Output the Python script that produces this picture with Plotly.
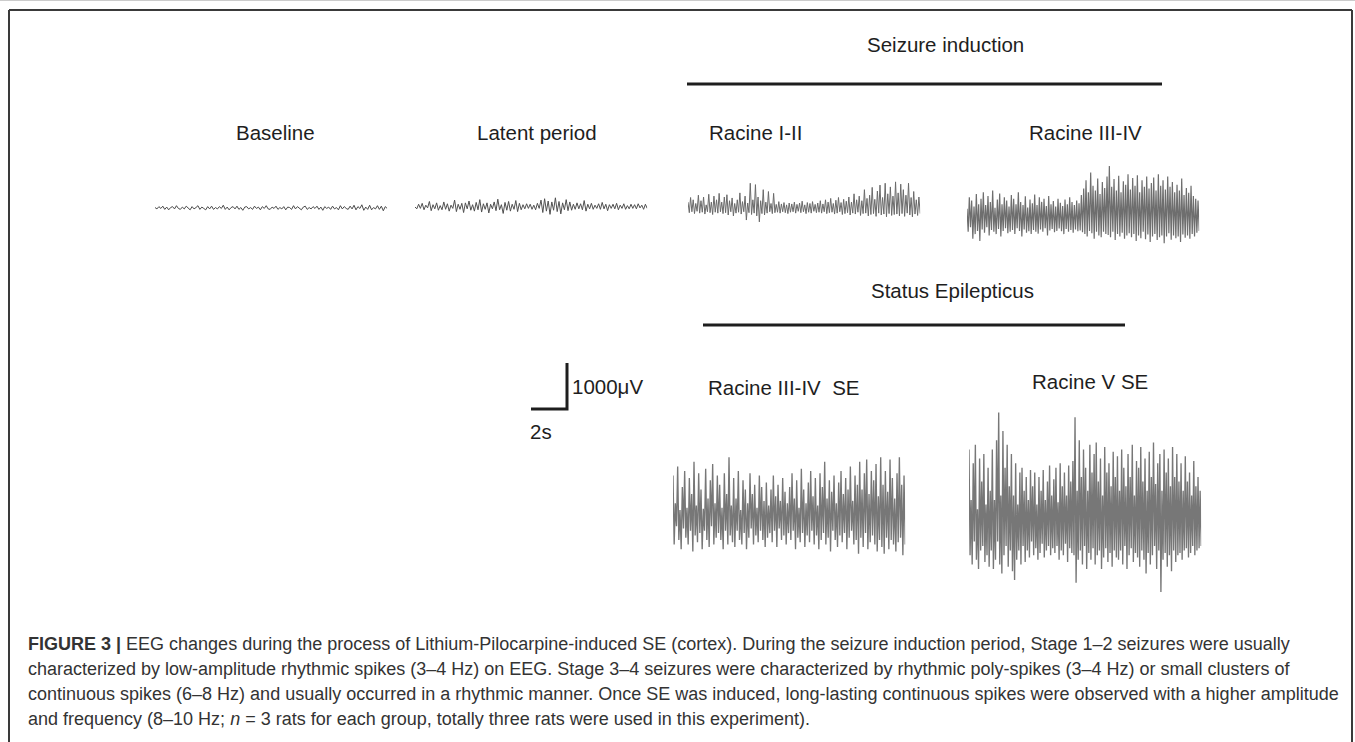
import plotly.graph_objects as go

# ---------------- data (µV samples) ----------------
BASELINE = [
    10,-20,30,-10,40,-30,20,-40,10,30,-20,50,-10,-30,20,-20,40,-10,-40,30,
    -20,10,50,-30,20,-10,-40,30,-20,40,-30,10,-20,30,-10,60,-30,20,-40,10,
    30,-20,40,-30,10,-50,20,30,-20,10,-30,40,-10,20,-40,30,-10,50,-20,-30,
    20,-10,40,-30,10,-20,30,-40,20,10,-30,50,-20,30,-10,-40,20,40,-30,10,
    -20,30,-10,40,-30,20,-50,30,-10,20,-30,40,-20,10,-40,50,-20,30,-10,-30,
    40,-20,60,-40,30,-10,70,-50,20,-30,60,-40,10,-20,50,-30,40,-60,30,-10,
]
LATENT = [
    0,-40,60,-30,80,-60,40,-20,120,-80,50,-40,90,-70,30,-60,110,-50,70,-90,
    40,-30,150,-100,60,-50,80,-120,90,-40,130,-70,50,-90,100,-60,160,-110,70,-50,
    90,-130,60,-40,110,-80,170,-60,50,-140,100,-70,120,-90,60,-50,140,-100,80,-60,
    50,-40,70,-30,60,-50,40,-60,80,-30,150,-120,180,-90,130,-160,110,-70,200,-100,
    120,-150,90,-60,160,-80,110,-70,60,-50,90,-40,70,-60,140,-90,60,-40,80,-50,
    40,-30,70,-50,100,-40,60,-80,50,-30,60,-40,80,-60,40,-30,70,-50,30,-40,
    60,-30,50,-40,70,-20,40,-50,60,-30,
]
RACINE_I_II = [
    150,-80,250,-60,200,-100,120,-50,300,-90,180,-70,260,-110,90,-60,320,-80,150,-120,
    280,-70,200,-90,340,-60,150,-100,260,-80,310,-130,180,-60,240,-150,120,-90,200,-70,
    350,-110,160,-60,280,-240,130,-80,560,-120,200,-90,530,-150,260,-280,180,-100,420,-130,
    150,-90,380,-60,120,-100,340,-80,100,-70,160,-90,110,-60,140,-80,90,-100,130,-70,
    110,-60,150,-90,100,-50,130,-80,170,-60,90,-100,140,-70,120,-90,160,-50,100,-80,
    130,-70,180,-90,110,-60,200,-100,150,-80,230,-70,120,-110,190,-90,250,-60,140,-120,
    210,-100,170,-80,260,-130,150,-90,330,-110,200,-70,280,-140,180,-100,420,-90,230,-150,
    300,-120,470,-100,210,-160,390,-90,520,-130,250,-110,560,-170,330,-100,480,-140,280,-120,
    590,-110,350,-150,540,-100,420,-160,300,-90,560,-130,250,-170,380,-110,200,-140,260,-100,
]
RACINE_III_IV = [
    200,-300,450,-200,380,-450,250,-350,520,-280,300,-500,420,-250,560,-320,280,-200,480,-380,
    350,-260,600,-300,220,-350,400,-240,530,-400,300,-280,450,-220,380,-330,250,-300,500,-260,
    420,-350,300,-220,560,-280,350,-400,280,-250,470,-320,230,-290,400,-350,320,-260,510,-300,
    280,-340,450,-250,350,-300,420,-220,260,-380,480,-270,300,-240,370,-310,250,-280,420,-230,
    330,-290,260,-350,400,-240,300,-300,450,-260,350,-320,280,-250,380,-290,320,-270,500,-310,
    640,-350,820,-400,560,-280,990,-330,700,-450,600,-300,860,-380,520,-420,780,-300,650,-350,
    900,-370,1130,-420,680,-300,850,-480,600,-350,920,-400,560,-320,800,-450,720,-380,950,-330,
    620,-420,870,-350,700,-500,930,-380,560,-440,820,-300,680,-460,900,-360,640,-520,760,-400,
    880,-350,600,-480,950,-420,700,-380,820,-550,620,-400,900,-330,680,-470,780,-380,560,-440,
    720,-400,600,-520,860,-360,500,-430,650,-380,550,-450,700,-350,480,-400,420,-320,380,-280,
]
RACINE_III_IV_SE = [
    900,-600,300,-200,1100,-500,150,-700,650,-250,1000,-450,200,-600,850,-300,500,-750,1200,-400,
    250,-550,950,-350,600,-700,180,-300,1050,-500,400,-650,800,-200,1150,-600,300,-450,900,-350,
    700,-500,200,-700,950,-300,500,-600,1300,-400,250,-550,850,-650,400,-300,1000,-500,150,-600,
    800,-350,600,-700,300,-450,950,-250,500,-600,700,-400,200,-550,900,-300,650,-500,350,-650,
    750,-450,250,-350,600,-550,900,-300,450,-650,700,-250,350,-500,850,-400,550,-600,300,-350,
    650,-500,950,-300,400,-700,800,-450,200,-550,1050,-350,600,-650,300,-400,750,-550,1000,-300,
    450,-600,850,-400,250,-700,950,-500,650,-350,1200,-600,400,-450,800,-750,550,-300,900,-500,
    300,-650,750,-400,1000,-550,500,-350,850,-700,600,-450,1100,-300,350,-600,900,-500,700,-800,
    1200,-450,600,-650,950,-350,1250,-700,500,-550,1000,-400,800,-600,1150,-750,450,-500,1300,-650,
    700,-800,1000,-450,550,-700,1250,-500,850,-600,400,-750,950,-550,1300,-450,700,-830,900,-600,
]
RACINE_V_SE = [
    1600,-700,500,-900,1300,-400,1700,-800,300,-1000,1400,-600,900,-500,1500,-850,400,-700,1200,-950,
    700,-600,1600,-1000,500,-800,1800,-400,2400,-900,600,-1100,2000,-700,1200,-500,1700,-950,800,-600,
    1500,-1050,600,-1240,1300,-800,400,-600,1100,-900,1200,-500,700,-850,1000,-600,500,-750,1150,-400,
    800,-700,1100,-550,400,-800,1000,-650,700,-450,1150,-750,500,-600,900,-500,1250,-700,600,-550,
    950,-650,1200,-500,450,-800,1300,-600,800,-700,1100,-450,600,-850,1250,-550,900,-650,1350,-700,
    2300,-1300,700,-800,1800,-600,1000,-900,1600,-500,1200,-1000,700,-650,1700,-800,1100,-550,1500,-900,
    1750,-700,900,-600,1400,-1000,600,-750,1650,-550,1100,-850,1300,-650,800,-950,1550,-600,1000,-750,
    1450,-800,700,-600,1600,-900,1200,-500,800,-1000,1500,-700,1000,-550,1700,-850,600,-650,1350,-750,
    1200,-950,1650,-600,900,-800,1400,-1100,700,-650,1550,-900,1000,-700,1750,-500,850,-1000,1300,-600,
    1500,-1500,700,-800,1600,-650,1100,-950,1400,-700,800,-1050,1650,-600,1000,-850,1500,-700,900,-650,
    1300,-800,700,-600,1450,-550,900,-750,1100,-650,600,-500,1350,-700,800,-600,1000,-550,700,-500,
]
TRACE_LABELS = ["Baseline", "Latent period", "Racine I-II", "Racine III-IV",
                "Racine III-IV\u00a0 SE", "Racine V SE"]
TRACE_VALUES = [BASELINE, LATENT, RACINE_I_II, RACINE_III_IV, RACINE_III_IV_SE, RACINE_V_SE]
DURATION_S = 12.9           # seconds shown per trace
SCALE_TIME_S = 2            # scale bar
SCALE_AMP_UV = 1000
GROUP_LABELS = ["Seizure induction", "Status Epilepticus"]
SCALE_LABELS = ["1000\u03bcV", "2s"]
CAPTION = [
    "<b>FIGURE 3 |</b> EEG changes during the process of Lithium-Pilocarpine-induced SE (cortex). "
    "During the seizure induction period, Stage 1\u20132 seizures were usually",
    "characterized by low-amplitude rhythmic spikes (3\u20134 Hz) on EEG. Stage 3\u20134 seizures were "
    "characterized by rhythmic poly-spikes (3\u20134 Hz) or small clusters of",
    "continuous spikes (6\u20138 Hz) and usually occurred in a rhythmic manner. Once SE was induced, "
    "long-lasting continuous spikes were observed with a higher amplitude",
    "and frequency (8\u201310 Hz; <i>n</i> = 3 rats for each group, totally three rats were used in "
    "this experiment).",
]

# ---------------- layout (pixels) ----------------
W, H = 1355, 742
UV_PER_PX = 1000 / 46
S_PER_PX = 1 / 18
HALF_BOX_PX = 130
# (left x, centre y, line colour, line width)
TRACE_POS = [
    (155, 208, "#4a4a4a", 1.0),
    (415, 207, "#505050", 1.0),
    (688, 209, "#6a6a6a", 1.0),
    (967, 218, "#6e6e6e", 1.2),
    (673, 517, "#777777", 1.35),
    (969, 523, "#777777", 1.35),
]
TITLE_POS = [(275, 132), (537, 132), (755, 133), (1085, 133), (784, 387), (1090, 381)]
GROUP_POS = [(945, 44), (952, 290)]
GROUP_LINES = [(687, 1162, 84), (703, 1125, 325)]
SCALE_CORNER = (567, 409)   # px, bottom-right corner of the L

TEXT_FONT = "Liberation Sans, Arial, sans-serif"
TITLE_SIZE = 20.5
CAPTION_SIZE = 18

fig = go.Figure()
layout = dict(width=W, height=H, margin=dict(l=0, r=0, t=0, b=0),
              paper_bgcolor="white", plot_bgcolor="rgba(0,0,0,0)", showlegend=False)


def px_x(x):
    return x / W


def px_y(y):
    return 1 - y / H


def add_axes(i, x_left_px, width_px, y_centre_px, half_px, x_range, y_range):
    xa = "xaxis" if i == 1 else f"xaxis{i}"
    ya = "yaxis" if i == 1 else f"yaxis{i}"
    layout[xa] = dict(domain=[px_x(x_left_px), px_x(x_left_px + width_px)], range=x_range,
                      visible=False, anchor="y" if i == 1 else f"y{i}", fixedrange=True)
    layout[ya] = dict(domain=[px_y(y_centre_px + half_px), px_y(y_centre_px - half_px)],
                      range=y_range, visible=False, anchor="x" if i == 1 else f"x{i}",
                      fixedrange=True)
    return ("x" if i == 1 else f"x{i}"), ("y" if i == 1 else f"y{i}")


half_uv = HALF_BOX_PX * UV_PER_PX
for k, (vals, (x0, yc, col, lw)) in enumerate(zip(TRACE_VALUES, TRACE_POS)):
    n = len(vals)
    t = [DURATION_S * j / (n - 1) for j in range(n)]
    xr, yr = add_axes(k + 1, x0, DURATION_S / S_PER_PX, yc, HALF_BOX_PX,
                      [0, DURATION_S], [-half_uv, half_uv])
    fig.add_trace(go.Scatter(x=t, y=vals, mode="lines", xaxis=xr, yaxis=yr,
                             line=dict(color=col, width=lw), hoverinfo="skip"))

# scale bar in its own axes (seconds / µV)
cx, cy = SCALE_CORNER
sb_w_px = SCALE_TIME_S / S_PER_PX
xr, yr = add_axes(7, cx - sb_w_px, sb_w_px + 10, cy, 80,
                  [0, SCALE_TIME_S + 10 * S_PER_PX], [-80 * UV_PER_PX, 80 * UV_PER_PX])
fig.add_trace(go.Scatter(x=[0, SCALE_TIME_S, SCALE_TIME_S], y=[0, 0, SCALE_AMP_UV],
                         mode="lines", xaxis=xr, yaxis=yr,
                         line=dict(color="#1e1e1e", width=3), hoverinfo="skip"))

annotations = []


def text(s, x, y, size=TITLE_SIZE, anchor="center", color="#1e1e1e"):
    annotations.append(dict(text=s, x=px_x(x), y=px_y(y), xref="paper", yref="paper",
                            showarrow=False, xanchor=anchor, yanchor="middle",
                            font=dict(family=TEXT_FONT, size=size, color=color)))


for lab, (x, y) in zip(TRACE_LABELS, TITLE_POS):
    text(lab, x, y)
for lab, (x, y) in zip(GROUP_LABELS, GROUP_POS):
    text(lab, x, y)
text(SCALE_LABELS[0], cx + 3, 386, anchor="left")
text(SCALE_LABELS[1], 541, 431)

for i, line in enumerate(CAPTION):
    text(line, 26, 644 + i * 24.9, size=CAPTION_SIZE, anchor="left", color="#333333")

shapes = []
for x0, x1, y in GROUP_LINES:
    shapes.append(dict(type="line", xref="paper", yref="paper", x0=px_x(x0), x1=px_x(x1),
                       y0=px_y(y), y1=px_y(y), line=dict(color="#1e1e1e", width=3)))
# figure frame
frame = dict(color="#3a3a3a", width=2)
shapes.append(dict(type="line", xref="paper", yref="paper", x0=px_x(9), x1=px_x(1352),
                   y0=px_y(10), y1=px_y(10), line=frame))
shapes.append(dict(type="line", xref="paper", yref="paper", x0=px_x(9), x1=px_x(9),
                   y0=px_y(10), y1=0, line=frame))
shapes.append(dict(type="line", xref="paper", yref="paper", x0=px_x(1352), x1=px_x(1352),
                   y0=px_y(10), y1=0, line=frame))
shapes.append(dict(type="line", xref="paper", yref="paper", x0=0, x1=1,
                   y0=px_y(0.5), y1=px_y(0.5), line=dict(color="#cccccc", width=1)))

layout["annotations"] = annotations
layout["shapes"] = shapes
fig.update_layout(**layout)

fig.write_html("out.html", config={"displayModeBar": False},
               post_script="document.body.style.margin='0';")
